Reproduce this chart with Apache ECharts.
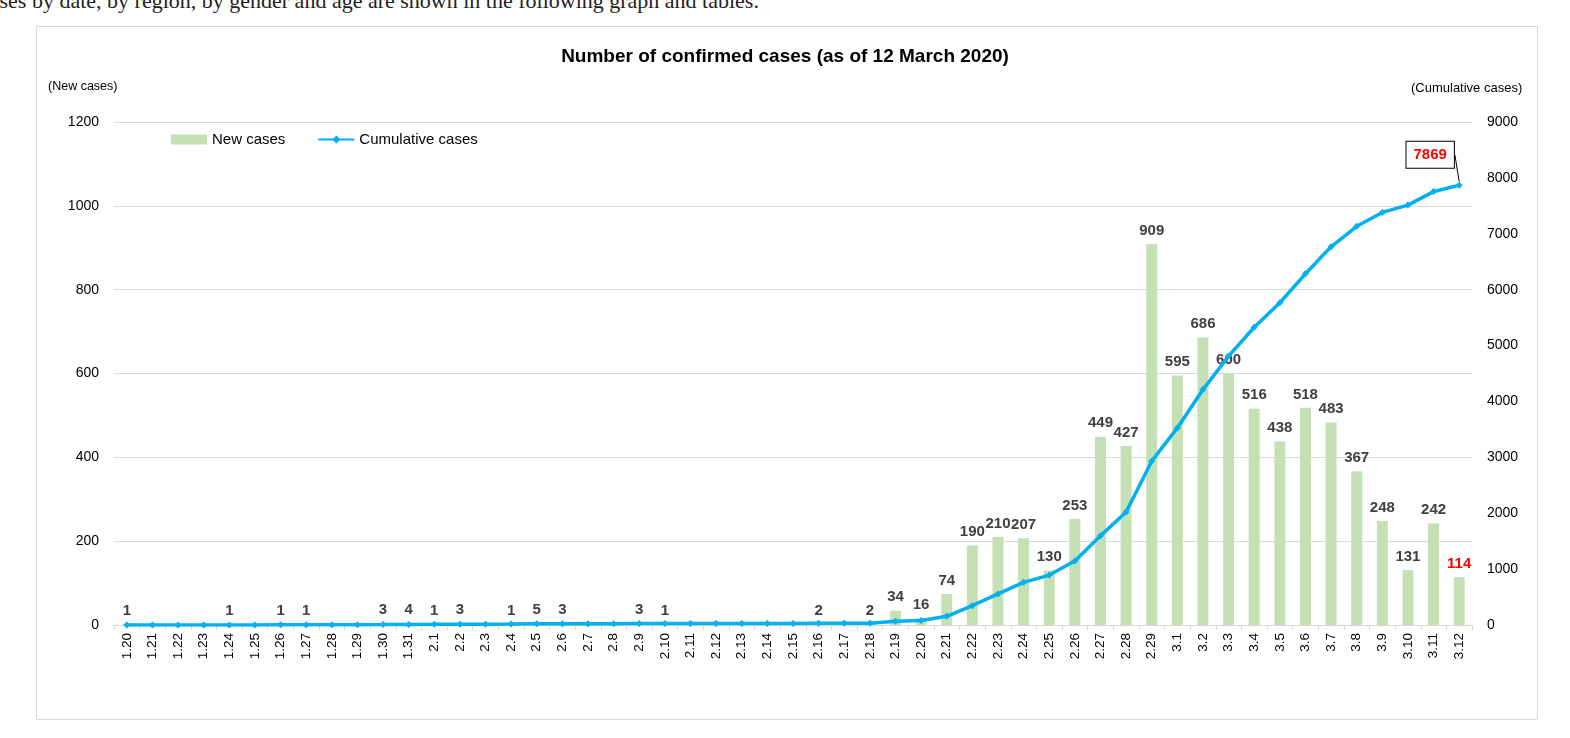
<!DOCTYPE html>
<html>
<head>
<meta charset="utf-8">
<script src="https://cdn.jsdelivr.net/npm/echarts@6/dist/echarts.min.js"></script>
<style>
  html, body { margin:0; padding:0; width:1570px; height:738px; overflow:hidden; background:#fff; }
  #intro { position:absolute; left:-20px; top:-12px; font-family:"Liberation Serif", serif; font-size:22px; color:#222; white-space:nowrap; }
  #chart { position:absolute; left:0; top:0; width:1570px; height:738px; }
</style>
</head>
<body>
<div id="intro">cases by date, by region, by gender and age are shown in the following graph and tables.</div>
<div id="chart"></div>
<script>
const dates = ['1.20','1.21','1.22','1.23','1.24','1.25','1.26','1.27','1.28','1.29','1.30','1.31',
  '2.1','2.2','2.3','2.4','2.5','2.6','2.7','2.8','2.9','2.10','2.11','2.12','2.13','2.14','2.15','2.16','2.17','2.18','2.19','2.20','2.21','2.22','2.23','2.24','2.25','2.26','2.27','2.28','2.29',
  '3.1','3.2','3.3','3.4','3.5','3.6','3.7','3.8','3.9','3.10','3.11','3.12'];
const newCases = [1,0,0,0,1,0,1,1,0,0,3,4,
  1,3,0,1,5,3,0,0,3,1,0,0,0,0,0,2,0,2,34,16,74,190,210,207,130,253,449,427,909,
  595,686,600,516,438,518,483,367,248,131,242,114];
const cumulativeCases = [1,1,1,1,2,2,3,4,4,4,7,11,
  12,15,15,16,21,24,24,24,27,28,28,28,28,28,28,30,30,32,66,82,156,346,556,763,893,1146,1595,2022,2931,
  3526,4212,4812,5328,5766,6284,6767,7134,7382,7513,7755,7869];
const leftTicks = {min:0, max:1200, interval:200};
const rightTicks = {min:0, max:9000, interval:1000};

const last = newCases.length - 1;
const barData = newCases.map((v,i) => i === last ? {value:v, label:{color:'#ff0000'}} : v);
const lineData = cumulativeCases.map((v,i) => i === last ? {
  value:v,
  label:{show:true, position:'top', distance:5, formatter:'{c}', color:'#ff0000', fontWeight:'bold', fontSize:15,
    fontFamily:'Liberation Sans', backgroundColor:'#fff', borderColor:'#000', borderWidth:1, padding:[6,7,5,7]},
  labelLine:{show:true, lineStyle:{color:'#000', width:1}}
} : v);

const chart = echarts.init(document.getElementById('chart'), null, {renderer:'canvas'});
chart.setOption({
  animation:false,
  textStyle:{fontFamily:'Liberation Sans'},
  title:{text:'Number of confirmed cases (as of 12 March 2020)', left:'center', top:42,
    textStyle:{fontSize:19, fontWeight:'bold', color:'#000', fontFamily:'Liberation Sans'}},
  graphic:[
    {type:'rect', shape:{x:36.5, y:26.5, width:1501, height:693}, style:{fill:'none', stroke:'#d9d9d9', lineWidth:1}, z:-1},
    {type:'text', left:48, top:80, style:{text:'(New cases)', fontSize:12.5, fill:'#000', fontFamily:'Liberation Sans'}},
    {type:'text', left:1411, top:82, style:{text:'(Cumulative cases)', fontSize:13, fill:'#000', fontFamily:'Liberation Sans'}}
  ],
  legend:{left:166, top:127, itemWidth:36, itemHeight:10, itemGap:32,
    textStyle:{fontSize:15, color:'#000', fontFamily:'Liberation Sans'},
    data:[{name:'New cases', icon:'rect'}, {name:'Cumulative cases'}]},
  grid:{left:114, right:98, top:122, bottom:113, containLabel:false},
  xAxis:{type:'category', data:dates, boundaryGap:true,
    axisLine:{lineStyle:{color:'#d9d9d9'}},
    axisTick:{show:true, alignWithLabel:false, length:5, lineStyle:{color:'#d9d9d9'}},
    axisLabel:{rotate:90, interval:0, fontSize:13.5, color:'#000', margin:8}},
  yAxis:[
    {type:'value', min:leftTicks.min, max:leftTicks.max, interval:leftTicks.interval,
      axisLine:{show:false}, axisTick:{show:false},
      splitLine:{lineStyle:{color:'#d9d9d9'}},
      axisLabel:{fontSize:14, color:'#000', margin:15, formatter: v => String(v)}},
    {type:'value', min:rightTicks.min, max:rightTicks.max, interval:rightTicks.interval,
      axisLine:{show:false}, axisTick:{show:false}, splitLine:{show:false},
      axisLabel:{fontSize:14, color:'#000', margin:15, formatter: v => String(v)}}
  ],
  series:[
    {name:'New cases', type:'bar', yAxisIndex:0, data:barData, barWidth:11,
      itemStyle:{color:'#c5e0b4'},
      label:{show:true, position:'top', distance:6, fontSize:15, fontWeight:'bold', color:'#404040',
        fontFamily:'Liberation Sans',
        formatter: p => p.value > 0 ? String(p.value) : ''}},
    {name:'Cumulative cases', type:'line', yAxisIndex:1, data:lineData,
      symbol:'diamond', symbolSize:7, showSymbol:true,
      lineStyle:{color:'#00b0f0', width:3.5}, itemStyle:{color:'#00b0f0'},
      labelLayout:{dx:-29, dy:-9}, z:5}
  ]
});
</script>
</body>
</html>
